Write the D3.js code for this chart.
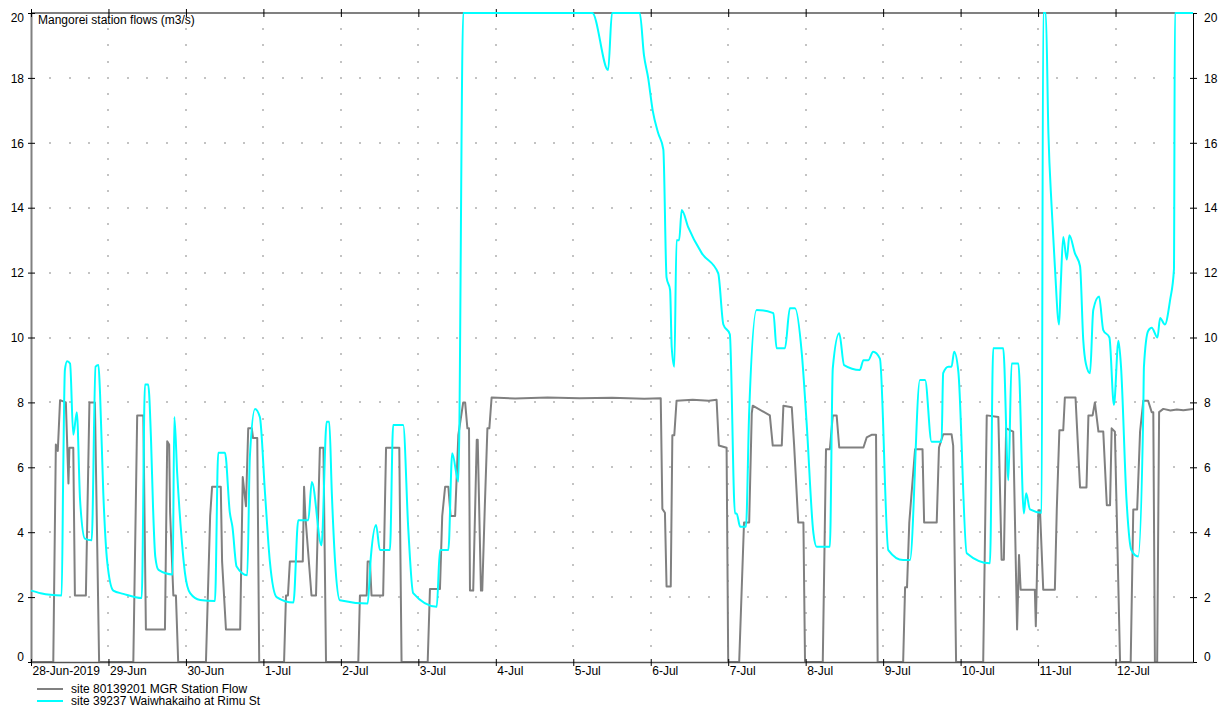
<!DOCTYPE html>
<html>
<head>
<meta charset="utf-8">
<script src="https://cdn.jsdelivr.net/npm/d3@7"></script>
<style>
  html, body { margin: 0; padding: 0; background: #fff; }
  svg { display: block; font-family: "Liberation Sans", Arial, sans-serif; }
</style>
</head>
<body>
<svg id="chart" width="1220" height="707"></svg>
<script>
// Hourly offsets from 28-Jun-2019 00:00 and flows (m3/s)
const mgrHours = [0, 6.9, 7.7, 8.3, 9.0, 10.8, 11.6, 11.9, 13.1, 13.6, 17.0, 18.1, 19.8, 21.1,
  31.7, 32.9, 34.8, 35.6, 41.5, 42.2, 42.8, 43.1, 44.1, 44.9, 45.6,
  54.2, 55.5, 56.1, 58.8, 59.2, 60.4, 64.8, 65.6, 66.6, 67.3, 68.4, 68.8, 70.1, 70.7,
  78.4, 79.0, 79.6, 80.2, 84.2, 84.6, 85.0, 86.9, 88.3, 89.5, 90.6, 91.4,
  101.4, 101.9, 104.0, 104.3, 105.0, 105.5, 109.1, 110.0, 114.1, 114.8,
  122.9, 123.6, 126.7, 127.4, 128.3, 129.3, 130.0, 131.4, 132.4, 133.9, 134.5, 135.2, 135.7,
  136.0, 137.0, 138.1, 138.4, 139.4, 139.8, 140.6, 141.4, 142.0, 142.7,
  150, 160, 170, 180, 190, 195.1, 195.6, 196.4, 196.9, 198.2, 198.7, 199.3, 200.0,
  205, 210, 212.4, 213.1, 215.5, 216.0, 219.4, 220.9, 222.5, 223.3, 223.6, 228.9, 229.8,
  232.6, 233.1, 235.7, 236.4, 237.7, 239.3, 239.8,
  245.3, 246.3, 247.5, 248.4, 249.6, 250.4, 257.9, 258.9, 260.4, 261.8, 262.3,
  270.2, 270.8, 271.4, 272.1, 273.9, 276.2, 276.7, 280.6, 281.3, 282.6, 285.2, 285.7, 286.6,
  295.0, 296.1, 299.7, 300.7, 301.4, 302.1, 304.3, 305.5, 306.1, 306.6, 311.0, 311.3,
  312.1, 312.6, 313.6, 317.2, 317.8, 318.6, 319.8, 320.3, 323.6, 325.0, 327.0, 327.6,
  328.9, 329.6, 330.7, 332.2, 333.3, 334.3, 334.8, 335.8, 337.4,
  340.7, 341.5, 342.7, 343.6, 344.6, 346.1, 347.2, 347.7, 348.2, 348.9, 349.5, 350.8,
  353, 355, 357, 360];
const mgrFlow = [0, 0, 6.7, 6.5, 8.07, 8.0, 5.5, 6.6, 6.6, 2.05, 2.05, 8.0, 8.0, 0,
  0, 7.6, 7.6, 1.0, 1.0, 6.8, 6.7, 4.6, 2.05, 2.05, 0,
  0, 4.5, 5.4, 5.4, 3.1, 1.0, 1.0, 5.7, 4.8, 7.2, 7.2, 6.9, 6.9, 0,
  0, 2.05, 2.05, 3.1, 3.1, 5.4, 4.5, 2.05, 2.05, 6.6, 6.6, 0,
  0, 2.05, 2.05, 3.1, 3.1, 2.05, 2.05, 6.6, 6.6, 0,
  0, 2.25, 2.25, 4.5, 5.4, 5.4, 4.5, 4.5, 7.0, 8.0, 8.0, 7.2, 7.2,
  2.2, 2.2, 6.85, 6.85, 2.2, 2.2, 4.8, 7.2, 7.2, 8.15,
  8.12, 8.15, 8.13, 8.14, 8.11, 8.13, 4.72, 4.6, 2.33, 2.33, 6.99, 6.99, 8.05,
  8.08, 8.05, 8.08, 6.67, 6.6, 0, 0, 4.3, 4.3, 7.66, 7.9, 7.6, 6.67,
  6.67, 7.9, 7.85, 6.72, 4.3, 4.3, 0,
  0, 6.56, 6.56, 7.6, 7.6, 6.61, 6.61, 6.92, 7.0, 7.0, 0,
  0, 2.3, 2.3, 4.3, 6.56, 6.56, 4.3, 4.3, 6.61, 7.02, 7.02, 6.67, 0,
  0, 7.6, 7.55, 3.15, 3.15, 7.2, 7.1, 1.0, 3.3, 2.23, 2.23, 1.1,
  4.68, 4.68, 2.23, 2.23, 4.7, 7.14, 7.14, 8.15, 8.15, 5.38, 5.38, 7.6,
  7.6, 8.0, 7.1, 7.1, 4.83, 4.83, 7.2, 7.1, 0,
  0, 4.7, 4.7, 7.1, 8.05, 8.05, 7.7, 7.7, 0, 0, 7.7, 7.8,
  7.75, 7.78, 7.76, 7.8];

const rimuHours = [0, 3, 6, 9.5, 10.0, 10.5, 11.2, 12.1, 13.1, 14.2, 15.2, 16.7, 18.8, 20.0, 20.9,
  21.4, 22.4, 23.6, 25.5, 28.6, 34.3, 35.3, 36.3, 37.2, 37.8, 38.5, 39.5, 43.9, 44.4, 45.3, 46.7,
  47.7, 49.3, 52.4, 57.0, 58.0, 60.1, 61.6, 62.4, 63.7, 67.0, 67.8, 69.4, 70.9, 72.5, 74.0, 76.1, 81.3,
  82.8, 85.9, 87.0, 90.0, 91.6, 92.4, 93.2, 94.2, 95.7, 104.3, 105.3, 106.9, 108.1, 111.2,
  112.2, 115.3, 116.9, 118.4, 125.7, 126.7, 129.3, 130.5, 132.4, 133.9,
  173.9, 178.8, 180.0, 188.6, 189.9, 191.2, 192.6, 194.3, 195.9, 196.9, 198.0, 198.5, 199.3,
  200.0, 200.8, 201.6, 203.6, 207.8, 212.9, 214.5, 216.5, 218.1, 218.6, 219.7, 221.5, 222.5,
  224.8, 230.0, 231.0, 233.6, 235.1, 236.7, 238.8, 240.3, 242.4, 243.4, 247.5, 248.4, 250.4,
  251.9, 256.8, 257.9, 259.4, 260.9, 263.0, 265.6, 270.2, 272.3, 275.4, 277.0, 279.0, 282.1,
  282.6, 284.2, 285.2, 286.0, 287.3, 289.9, 297.1, 298.1, 301.2, 302.8, 303.8, 305.9, 307.6,
  308.3, 309.5, 313.1, 313.6, 314.4, 315.2, 316.2, 317.2, 318.5, 319.0, 319.8, 320.9, 321.7,
  323.4, 325.0, 326.0, 326.8, 328.1, 329.1, 330.9, 332.2, 334.1, 335.5, 336.9, 337.7, 339.4,
  340.9, 343.0, 344.6, 344.8, 346.1, 347.2, 349.0, 349.8, 351.3, 352.9, 354.1, 354.4, 360];
const rimuFlow = [2.2, 2.12, 2.07, 2.05, 6.0, 9.0, 9.27, 9.2, 7.0, 7.7, 5.0, 3.8, 3.75, 9.1, 9.15,
  8.25, 5.2, 3.1, 2.2, 2.1, 1.97, 8.55, 8.55, 6.8, 4.8, 3.25, 2.84, 2.7, 7.55, 5.8, 3.76,
  2.74, 2.12, 1.91, 1.88, 6.45, 6.45, 4.6, 4.17, 2.94, 2.67, 6.3, 7.8, 7.55, 5.2, 3.1, 2.0, 1.83,
  4.37, 4.37, 5.55, 3.6, 7.4, 7.4, 5.2, 3.1, 1.9, 1.8, 3.25, 4.22, 3.45, 3.45,
  7.3, 7.3, 4.07, 2.12, 1.7, 3.45, 3.45, 6.43, 5.56, 20,
  20, 18.24, 20, 20, 18.7, 18.0, 17.0, 16.3, 15.8, 11.85, 11.46, 9.7, 9.1,
  13.0, 13.0, 13.93, 13.4, 12.6, 11.98, 10.4, 10.1, 4.58, 4.58, 4.17, 4.17, 7.71,
  10.85, 10.75, 9.67, 9.67, 10.9, 10.9, 9.51, 7.36, 3.97, 3.55, 3.55, 9.05, 10.13,
  9.15, 9.0, 9.3, 9.3, 9.56, 9.35, 3.45, 3.14, 3.14, 8.69, 8.69, 6.79, 6.79,
  8.9, 9.1, 9.1, 9.56, 8.95, 3.35, 3.04, 9.67, 9.67, 5.6, 9.2, 9.2, 4.58,
  5.2, 4.7, 4.6, 20, 20, 16.3, 14.03, 12.2, 10.4, 11.56, 13.1, 12.4, 13.15,
  12.6, 12.2, 9.92, 9.2, 8.9, 10.85, 11.26, 10.23, 10.0, 7.92, 9.9, 9.1, 5.0,
  3.45, 3.25, 7.77, 9.1, 10.2, 10.3, 10.0, 10.6, 10.4, 11.15, 12.1, 20, 20];

const dayLabels = ["28-Jun-2019", "29-Jun", "30-Jun", "1-Jul", "2-Jul", "3-Jul", "4-Jul", "5-Jul",
  "6-Jul", "7-Jul", "8-Jul", "9-Jul", "10-Jul", "11-Jul", "12-Jul"];
const yTicks = [0, 2, 4, 6, 8, 10, 12, 14, 16, 18, 20];
const seriesNames = ["site 80139201 MGR Station Flow", "site 39237 Waiwhakaiho at Rimu St"];
const seriesColors = ["#808080", "#00ffff"];

const start = new Date(2019, 5, 28);
const atHour = h => new Date(start.getTime() + h * 3600e3);

const L = 31, R = 1193, T = 13, B = 662;
const svg = d3.select("#chart");

const x = d3.scaleTime().domain([start, atHour(360)]).range([L, R]);
const y = d3.scaleLinear().domain([0, 20]).range([B, T]).clamp(true);

const dayTicks = dayLabels.map((_, i) => atHour(i * 24));

// dotted grid: day columns every 0.5 units, value rows every 6 hours
const dots = [];
for (let d = 1; d < 15; d++) {
  for (let v = 0.5; v < 20; v += 0.5) dots.push([atHour(d * 24), v]);
}
for (let v = 2; v < 20; v += 2) {
  for (let h = 6; h < 360; h += 6) if (h % 24 !== 0) dots.push([atHour(h), v]);
}
svg.append("g").selectAll("rect").data(dots).join("rect")
  .attr("x", d => Math.round(x(d[0])) - 0.5)
  .attr("y", d => Math.round(y(d[1])) - 0.5)
  .attr("width", 1).attr("height", 1).attr("fill", "#111");

// frame
svg.append("line").attr("x1", L).attr("x2", R).attr("y1", T).attr("y2", T)
  .attr("stroke", "#808080").attr("stroke-width", 2);

// left axis
const gl = svg.append("g").attr("transform", `translate(${L},0)`)
  .call(d3.axisLeft(y).tickValues(yTicks).tickFormat(d3.format("d")).tickSizeOuter(0));
gl.select(".domain").attr("stroke", "#808080").attr("stroke-width", 2);
gl.selectAll(".tick line").attr("x1", -3).attr("x2", 4).attr("stroke", "#000");
gl.selectAll(".tick text").attr("x", -7).attr("font-size", 12).attr("fill", "#000")
  .attr("font-family", "Liberation Sans, Arial, sans-serif")
  .attr("dy", d => d === 20 ? "0.7em" : d === 0 ? "-0.1em" : "0.35em");

// right axis
const gr = svg.append("g").attr("transform", `translate(${R},0)`)
  .call(d3.axisRight(y).tickValues(yTicks).tickFormat(d3.format("d")).tickSizeOuter(0));
gr.select(".domain").attr("stroke", "#000").attr("stroke-width", 1);
gr.selectAll(".tick line").attr("x1", -3).attr("x2", 4).attr("stroke", "#000");
gr.selectAll(".tick text").attr("x", 11).attr("font-size", 12).attr("fill", "#000")
  .attr("font-family", "Liberation Sans, Arial, sans-serif")
  .attr("dy", d => d === 20 ? "0.7em" : d === 0 ? "-0.1em" : "0.35em");

// top ticks
const gt = svg.append("g").attr("transform", `translate(0,${T})`)
  .call(d3.axisTop(x).tickValues(dayTicks).tickFormat("").tickSizeOuter(0));
gt.select(".domain").remove();
gt.selectAll(".tick line").attr("y1", -4).attr("y2", 4).attr("stroke", "#000");

// series lines
const mgr = mgrHours.map((h, i) => [atHour(h), mgrFlow[i]]);
const rimu = rimuHours.map((h, i) => [atHour(h), rimuFlow[i]]);
const line = d3.line().x(d => x(d[0])).y(d => y(d[1]));
const smoothLine = d3.line().x(d => x(d[0])).y(d => y(d[1])).curve(d3.curveMonotoneX);

svg.append("path").datum(mgr).attr("d", line)
  .attr("fill", "none").attr("stroke", seriesColors[0]).attr("stroke-width", 2)
  .attr("stroke-linejoin", "round");

// bottom axis
const gb = svg.append("g").attr("transform", `translate(0,${B})`)
  .call(d3.axisBottom(x).tickValues(dayTicks).tickFormat((d, i) => dayLabels[i]).tickSizeOuter(0));
gb.select(".domain").attr("stroke", "#555").attr("stroke-width", 1.5);
gb.selectAll(".tick line").attr("y1", -3).attr("y2", 4).attr("stroke", "#000");
gb.selectAll(".tick text").attr("text-anchor", "start").attr("x", 1).attr("y", 4)
  .attr("font-size", 12).attr("fill", "#000")
  .attr("font-family", "Liberation Sans, Arial, sans-serif");

svg.append("path").datum(rimu).attr("d", smoothLine)
  .attr("fill", "none").attr("stroke", seriesColors[1]).attr("stroke-width", 2)
  .attr("stroke-linejoin", "round");

// title
svg.append("text").attr("x", 38).attr("y", 24).attr("font-size", 12).attr("fill", "#000")
  .text("Mangorei station flows (m3/s)");

// legend
const lg = svg.append("g").selectAll("g").data(seriesNames).join("g")
  .attr("transform", (d, i) => `translate(37,${689 + i * 12})`);
lg.append("line").attr("x1", 0).attr("x2", 26).attr("y1", 0).attr("y2", 0)
  .attr("stroke", (d, i) => seriesColors[i]).attr("stroke-width", 2);
lg.append("text").attr("x", 34).attr("y", 4).attr("font-size", 12).attr("fill", "#000").text(d => d);
</script>
</body>
</html>
